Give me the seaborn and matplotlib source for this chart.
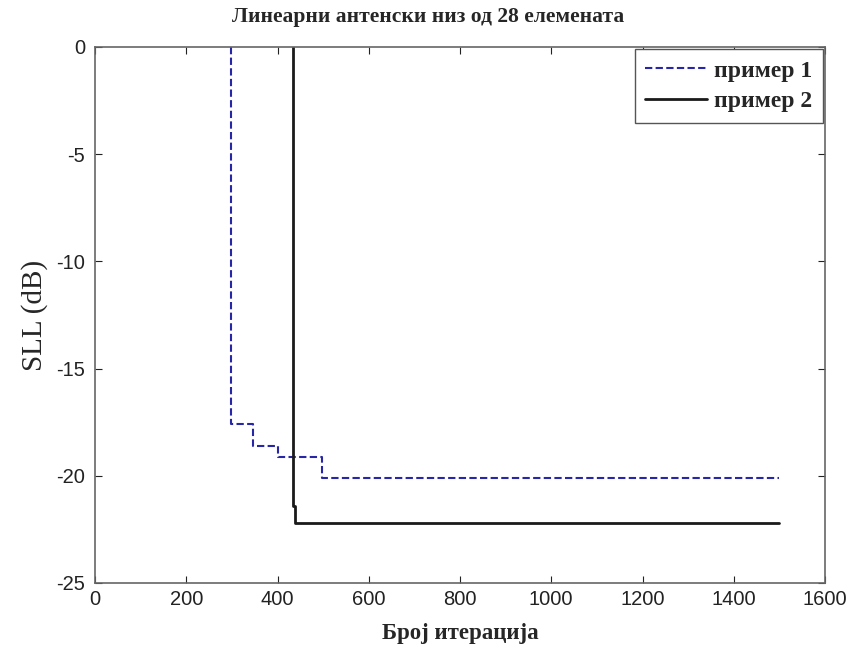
import pandas as pd
import matplotlib
matplotlib.use("Agg")
import matplotlib.pyplot as plt
import seaborn as sns

# step curves (iteration, SLL in dB)
iter_ex1 = [297, 297, 346, 401, 497, 1500]
sll_ex1 = [0.0, -17.6, -18.6, -19.1, -20.1, -20.1]
iter_ex2 = [433, 433, 438, 1500]
sll_ex2 = [0.0, -21.4, -22.2, -22.2]
labels = ["пример 1", "пример 2"]

x_ticks = list(range(0, 1601, 200))
y_ticks = list(range(-25, 1, 5))

sns.set_theme(style="ticks")
plt.rcParams["font.family"] = ["Liberation Sans", "DejaVu Sans"]
plt.rcParams["axes.unicode_minus"] = False

df = pd.concat([
    pd.DataFrame({"iter": iter_ex1, "sll": sll_ex1, "case": labels[0]}),
    pd.DataFrame({"iter": iter_ex2, "sll": sll_ex2, "case": labels[1]}),
], ignore_index=True)

fig = plt.figure(figsize=(8.56, 6.58), dpi=100)
ax = fig.add_axes([95 / 856, 1 - 583 / 658, 730 / 856, 536 / 658])

sns.lineplot(data=df[df["case"] == labels[0]], x="iter", y="sll", ax=ax,
             estimator=None, sort=False, drawstyle="steps-post",
             color="#2626a6", linestyle=(0, (3.5, 1.6)), linewidth=1.5,
             label=labels[0])
sns.lineplot(data=df[df["case"] == labels[1]], x="iter", y="sll", ax=ax,
             estimator=None, sort=False, drawstyle="steps-post",
             color="#1a1a1a", linewidth=2, label=labels[1])

ax.set_xlim(0, 1600)
ax.set_ylim(-25, 0)
ax.set_xticks(x_ticks)
ax.set_yticks(y_ticks)
ax.tick_params(direction="in", top=True, right=True, length=5,
               labelsize=14.5, colors="#222222", width=0.8)
ax.tick_params(axis="y", pad=7)
ax.tick_params(axis="x", pad=5)
for s in ax.spines.values():
    s.set_visible(True)
    s.set_color("#666666")
    s.set_linewidth(1.2)

fig.text(0.5, 1 - 17 / 658, "Линеарни антенски низ од 28 елемената",
         family="Liberation Serif", fontweight="bold", fontsize=15.5,
         ha="center", va="center")
ax.set_xlabel("Број итерација", family="Liberation Serif", fontweight="bold",
              fontsize=16.5, labelpad=10)
ax.set_ylabel("SLL (dB)", family="Liberation Serif", fontsize=21, labelpad=6)

leg = ax.legend(loc="upper right", fancybox=False, framealpha=1,
                edgecolor="#555555", borderaxespad=0.1, handlelength=2.6,
                handletextpad=0.3, borderpad=0.45, labelspacing=0.4,
                prop={"family": "Liberation Serif", "weight": "bold", "size": 17})
leg.get_frame().set_linewidth(1.0)

fig.savefig("out.png", dpi=100)
